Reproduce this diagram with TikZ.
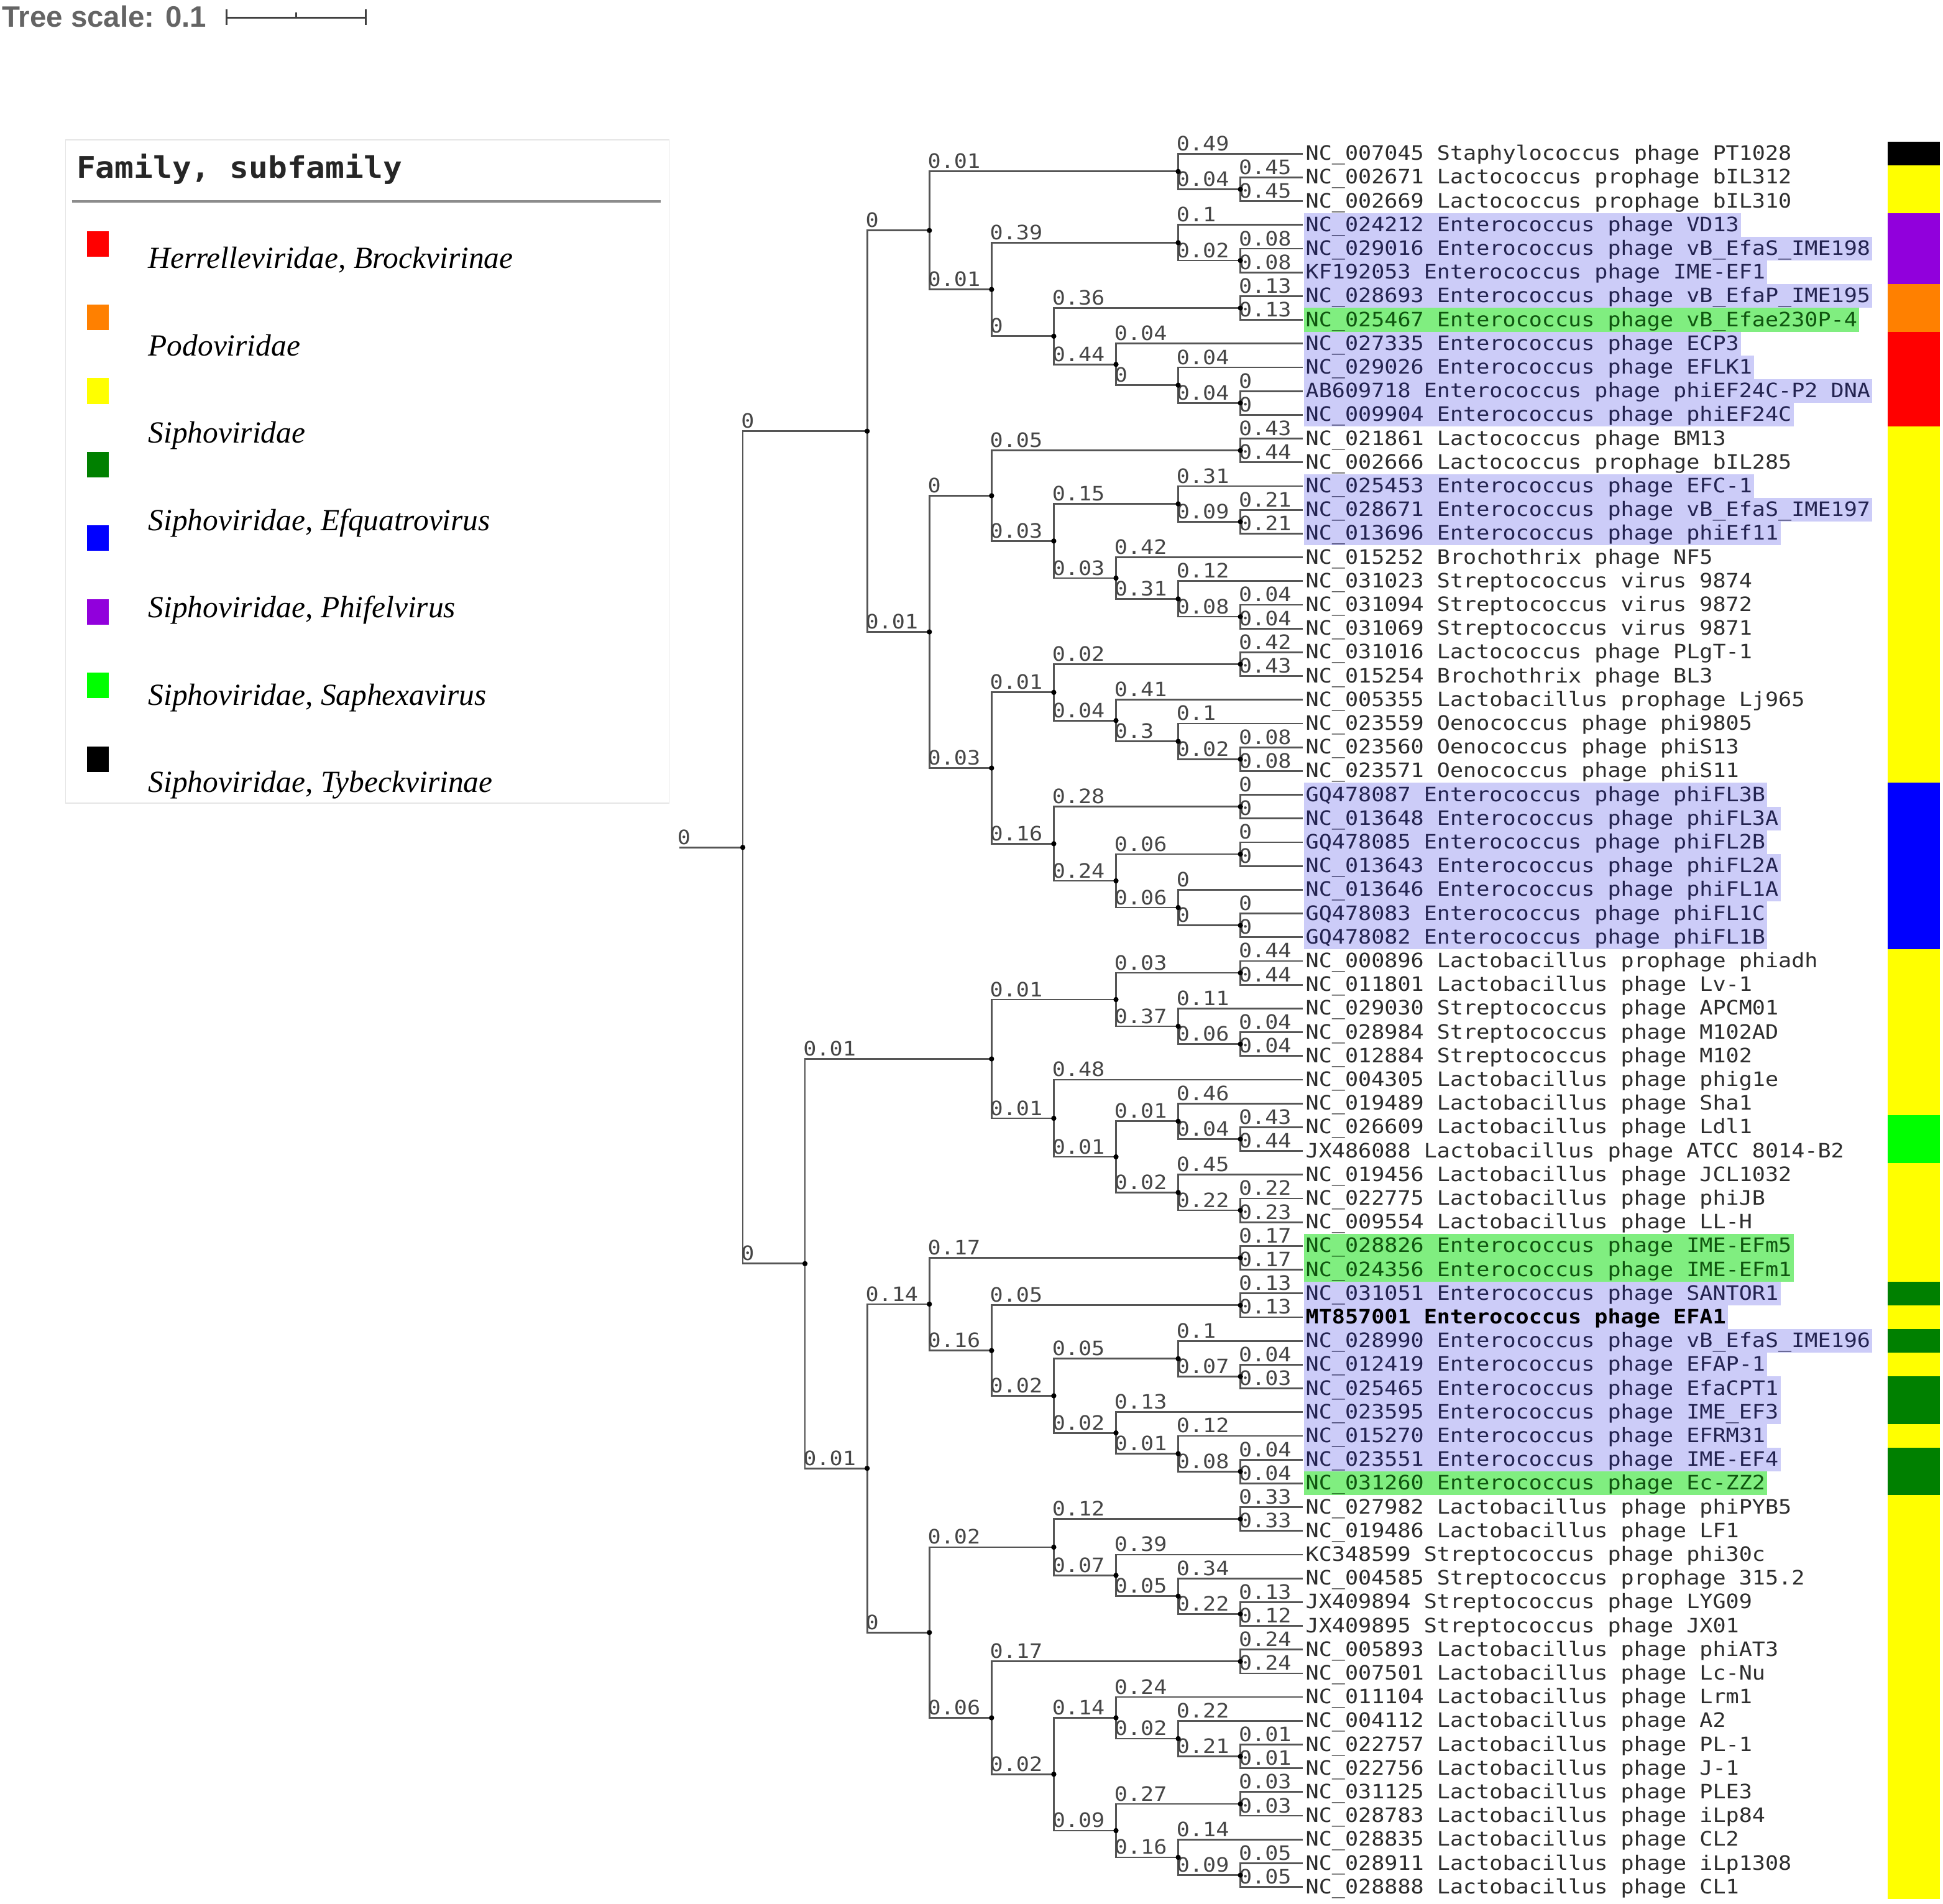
\documentclass[tikz,border=0pt]{standalone}
\usepackage{fontspec}
\usetikzlibrary{calc}
\newfontfamily\leaffont[FakeStretch=1.1]{DejaVu Sans Mono}
\newfontfamily\titlefont[FakeStretch=1.07]{DejaVu Sans Mono}
\newfontfamily\legserif{Liberation Serif}
\newfontfamily\tsfont{Liberation Sans}
\newcommand\lfs{\leaffont\fontsize{16}{16}\selectfont}
\pgfdeclarelayer{bg}\pgfdeclarelayer{fg}\pgfsetlayers{bg,main,fg}
\definecolor{hlp}{RGB}{204,204,248}
\definecolor{hlg}{RGB}{128,238,128}
\definecolor{brc}{RGB}{85,85,85}
\definecolor{lblc}{RGB}{70,70,70}
\definecolor{txn}{RGB}{45,45,45}
\definecolor{txp}{RGB}{35,35,80}
\definecolor{txg}{RGB}{15,85,15}
\definecolor{cpur}{RGB}{145,0,220}
\definecolor{corg}{RGB}{255,128,0}
\definecolor{cred}{RGB}{255,0,0}
\definecolor{cyel}{RGB}{255,255,0}
\definecolor{cblu}{RGB}{0,0,255}
\definecolor{cgrn}{RGB}{0,255,0}
\definecolor{cdgr}{RGB}{0,128,0}
\definecolor{tsc}{RGB}{100,100,100}
\tikzset{
 brl/.style={draw=brc, line width=1.4pt},
 bl/.style={anchor=base west, inner sep=0pt, xshift=-1.5pt, yshift=2.5pt, font=\lfs, text=lblc},
 lt/.style={anchor=base west, inner sep=0pt, yshift=-5.3pt, font=\lfs, text=txn},
 tp/.style={text=txp}, tg/.style={text=txg}, tb/.style={text=black, font=\lfs\bfseries},
 dotc/.style={fill=black},
 leg/.style={anchor=base west, inner sep=0pt, font=\legserif\itshape\fontsize{24.8}{24.8}\selectfont, text=black},
}
\newcommand\leaf[3]{%
  \coordinate (l#1) at (1051.2,{124+(#1-1)*19.16});
  \node[lt,#2] (t#1) at ([xshift=2.3pt]l#1) {#3};}
\newcommand\hl[2]{\begin{pgfonlayer}{bg}\fill[#2] ($(l#1)+(1.3,-9.58)$) rectangle ($(t#1.east |- l#1)+(1.5,9.58)$);\end{pgfonlayer}}
\newcommand\strip[3]{\fill[#3] (1523.5,{114.42+(#1-1)*19.16}) rectangle (1565.5,{114.42+#2*19.16});}
\newcommand\clade[6]{%
  \path let \p1=($(#3)!0.5!(#5)$) in (#2pt,\y1) coordinate (#1);
  \draw[brl] (#1) |- (#3);
  \draw[brl] (#1) |- (#5);
  \node[bl] (b#3) at (#1 |- #3) {#4};
  \node[bl] (b#5) at (#1 |- #5) {#6};
  \begin{pgfonlayer}{fg}\fill[dotc] (#1) circle[radius=2.1pt];\end{pgfonlayer}}
\begin{document}
\begin{tikzpicture}[x=1pt,y=-1pt]
\useasboundingbox (0,0) rectangle (1568,1536);
% tree scale
\node[anchor=base west, inner sep=0pt, font=\tsfont\bfseries\fontsize{23.8}{23.8}\selectfont, text=tsc] (ts) at (1.5,21.7) {Tree scale: 0.1};
\coordinate (sb1) at (183,14.2); \coordinate (sb2) at (295,14.2); \coordinate (sbm) at (239,14.2);
\draw[draw=black!75, line width=1.5pt] (sb1) -- (sb2);
\draw[draw=black!75, line width=1.5pt] ([yshift=6.7pt]sb1) -- ([yshift=-5.8pt]sb1);
\draw[draw=black!75, line width=1.5pt] ([yshift=6.7pt]sb2) -- ([yshift=-5.8pt]sb2);
\draw[draw=black!75, line width=1.5pt] ([yshift=4.2pt]sbm) -- (sbm);
% legend
\draw[draw=black!10, fill=white, line width=0.8pt] (53,113) rectangle (540,648);
\node[anchor=base west, inner sep=0pt, font=\titlefont\bfseries\fontsize{24}{24}\selectfont, text=black!85] (ttl) at (61.5,143.8) {Family, subfamily};
\draw[draw=black!45, line width=2pt] (58,162.6) -- (533,162.6);
\foreach \c [count=\k from 0] in {cred,corg,cyel,cdgr,cblu,cpur,cgrn,black}{
  \fill[\c] (70,{186.4+59.4*\k}) rectangle (87.6,{207+59.4*\k});}
\node[leg] (lg0) at (119.5,216.5) {Herrelleviridae, Brockvirinae};
\node[leg] (lg1) at (119.5,287) {Podoviridae};
\node[leg] (lg2) at (119.5,357.5) {Siphoviridae};
\node[leg] (lg3) at (119.5,428) {Siphoviridae, Efquatrovirus};
\node[leg] (lg4) at (119.5,498.5) {Siphoviridae, Phifelvirus};
\node[leg] (lg5) at (119.5,569) {Siphoviridae, Saphexavirus};
\node[leg] (lg6) at (119.5,639.5) {Siphoviridae, Tybeckvirinae};
% leaves
\leaf{1}{}{NC\_007045 Staphylococcus phage PT1028}
\leaf{2}{}{NC\_002671 Lactococcus prophage bIL312}
\leaf{3}{}{NC\_002669 Lactococcus prophage bIL310}
\leaf{4}{tp}{NC\_024212 Enterococcus phage VD13}
\leaf{5}{tp}{NC\_029016 Enterococcus phage vB\_EfaS\_IME198}
\leaf{6}{tp}{KF192053 Enterococcus phage IME-EF1}
\leaf{7}{tp}{NC\_028693 Enterococcus phage vB\_EfaP\_IME195}
\leaf{8}{tg}{NC\_025467 Enterococcus phage vB\_Efae230P-4}
\leaf{9}{tp}{NC\_027335 Enterococcus phage ECP3}
\leaf{10}{tp}{NC\_029026 Enterococcus phage EFLK1}
\leaf{11}{tp}{AB609718 Enterococcus phage phiEF24C-P2 DNA}
\leaf{12}{tp}{NC\_009904 Enterococcus phage phiEF24C}
\leaf{13}{}{NC\_021861 Lactococcus phage BM13}
\leaf{14}{}{NC\_002666 Lactococcus prophage bIL285}
\leaf{15}{tp}{NC\_025453 Enterococcus phage EFC-1}
\leaf{16}{tp}{NC\_028671 Enterococcus phage vB\_EfaS\_IME197}
\leaf{17}{tp}{NC\_013696 Enterococcus phage phiEf11}
\leaf{18}{}{NC\_015252 Brochothrix phage NF5}
\leaf{19}{}{NC\_031023 Streptococcus virus 9874}
\leaf{20}{}{NC\_031094 Streptococcus virus 9872}
\leaf{21}{}{NC\_031069 Streptococcus virus 9871}
\leaf{22}{}{NC\_031016 Lactococcus phage PLgT-1}
\leaf{23}{}{NC\_015254 Brochothrix phage BL3}
\leaf{24}{}{NC\_005355 Lactobacillus prophage Lj965}
\leaf{25}{}{NC\_023559 Oenococcus phage phi9805}
\leaf{26}{}{NC\_023560 Oenococcus phage phiS13}
\leaf{27}{}{NC\_023571 Oenococcus phage phiS11}
\leaf{28}{tp}{GQ478087 Enterococcus phage phiFL3B}
\leaf{29}{tp}{NC\_013648 Enterococcus phage phiFL3A}
\leaf{30}{tp}{GQ478085 Enterococcus phage phiFL2B}
\leaf{31}{tp}{NC\_013643 Enterococcus phage phiFL2A}
\leaf{32}{tp}{NC\_013646 Enterococcus phage phiFL1A}
\leaf{33}{tp}{GQ478083 Enterococcus phage phiFL1C}
\leaf{34}{tp}{GQ478082 Enterococcus phage phiFL1B}
\leaf{35}{}{NC\_000896 Lactobacillus prophage phiadh}
\leaf{36}{}{NC\_011801 Lactobacillus phage Lv-1}
\leaf{37}{}{NC\_029030 Streptococcus phage APCM01}
\leaf{38}{}{NC\_028984 Streptococcus phage M102AD}
\leaf{39}{}{NC\_012884 Streptococcus phage M102}
\leaf{40}{}{NC\_004305 Lactobacillus phage phig1e}
\leaf{41}{}{NC\_019489 Lactobacillus phage Sha1}
\leaf{42}{}{NC\_026609 Lactobacillus phage Ldl1}
\leaf{43}{}{JX486088 Lactobacillus phage ATCC 8014-B2}
\leaf{44}{}{NC\_019456 Lactobacillus phage JCL1032}
\leaf{45}{}{NC\_022775 Lactobacillus phage phiJB}
\leaf{46}{}{NC\_009554 Lactobacillus phage LL-H}
\leaf{47}{tg}{NC\_028826 Enterococcus phage IME-EFm5}
\leaf{48}{tg}{NC\_024356 Enterococcus phage IME-EFm1}
\leaf{49}{tp}{NC\_031051 Enterococcus phage SANTOR1}
\leaf{50}{tb}{MT857001 Enterococcus phage EFA1}
\leaf{51}{tp}{NC\_028990 Enterococcus phage vB\_EfaS\_IME196}
\leaf{52}{tp}{NC\_012419 Enterococcus phage EFAP-1}
\leaf{53}{tp}{NC\_025465 Enterococcus phage EfaCPT1}
\leaf{54}{tp}{NC\_023595 Enterococcus phage IME\_EF3}
\leaf{55}{tp}{NC\_015270 Enterococcus phage EFRM31}
\leaf{56}{tp}{NC\_023551 Enterococcus phage IME-EF4}
\leaf{57}{tg}{NC\_031260 Enterococcus phage Ec-ZZ2}
\leaf{58}{}{NC\_027982 Lactobacillus phage phiPYB5}
\leaf{59}{}{NC\_019486 Lactobacillus phage LF1}
\leaf{60}{}{KC348599 Streptococcus phage phi30c}
\leaf{61}{}{NC\_004585 Streptococcus prophage 315.2}
\leaf{62}{}{JX409894 Streptococcus phage LYG09}
\leaf{63}{}{JX409895 Streptococcus phage JX01}
\leaf{64}{}{NC\_005893 Lactobacillus phage phiAT3}
\leaf{65}{}{NC\_007501 Lactobacillus phage Lc-Nu}
\leaf{66}{}{NC\_011104 Lactobacillus phage Lrm1}
\leaf{67}{}{NC\_004112 Lactobacillus phage A2}
\leaf{68}{}{NC\_022757 Lactobacillus phage PL-1}
\leaf{69}{}{NC\_022756 Lactobacillus phage J-1}
\leaf{70}{}{NC\_031125 Lactobacillus phage PLE3}
\leaf{71}{}{NC\_028783 Lactobacillus phage iLp84}
\leaf{72}{}{NC\_028835 Lactobacillus phage CL2}
\leaf{73}{}{NC\_028911 Lactobacillus phage iLp1308}
\leaf{74}{}{NC\_028888 Lactobacillus phage CL1}
% highlights
\foreach \r in {4,5,6,7,9,10,11,12,15,16,17,28,29,30,31,32,33,34,49,50,51,52,53,54,55,56}{\hl{\r}{hlp}}
\foreach \r in {8,47,48,57}{\hl{\r}{hlg}}
% colour strip
\strip{1}{1}{black}
\strip{2}{3}{cyel}
\strip{4}{6}{cpur}
\strip{7}{8}{corg}
\strip{9}{12}{cred}
\strip{13}{27}{cyel}
\strip{28}{34}{cblu}
\strip{35}{41}{cyel}
\strip{42}{43}{cgrn}
\strip{44}{48}{cyel}
\strip{49}{49}{cdgr}
\strip{50}{50}{cyel}
\strip{51}{51}{cdgr}
\strip{52}{52}{cyel}
\strip{53}{54}{cdgr}
\strip{55}{55}{cyel}
\strip{56}{57}{cdgr}
\strip{58}{74}{cyel}
% tree
\clade{a1}{1001}{l2}{0.45}{l3}{0.45}
\clade{a2}{950.8}{l1}{0.49}{a1}{0.04}
\clade{b1}{1001}{l5}{0.08}{l6}{0.08}
\clade{b2}{950.8}{l4}{0.1}{b1}{0.02}
\clade{c1}{1001}{l7}{0.13}{l8}{0.13}
\clade{c2}{1001}{l11}{0}{l12}{0}
\clade{c3}{950.8}{l10}{0.04}{c2}{0.04}
\clade{c4}{900.6}{l9}{0.04}{c3}{0}
\clade{c5}{850.4}{c1}{0.36}{c4}{0.44}
\clade{c6}{800.2}{b2}{0.39}{c5}{0}
\clade{A1}{750}{a2}{0.01}{c6}{0.01}
\clade{d1}{1001}{l13}{0.43}{l14}{0.44}
\clade{d2}{1001}{l16}{0.21}{l17}{0.21}
\clade{d3}{950.8}{l15}{0.31}{d2}{0.09}
\clade{d4}{1001}{l20}{0.04}{l21}{0.04}
\clade{d5}{950.8}{l19}{0.12}{d4}{0.08}
\clade{d6}{900.6}{l18}{0.42}{d5}{0.31}
\clade{d7}{850.4}{d3}{0.15}{d6}{0.03}
\clade{d8}{800.2}{d1}{0.05}{d7}{0.03}
\clade{e1}{1001}{l22}{0.42}{l23}{0.43}
\clade{e2}{1001}{l26}{0.08}{l27}{0.08}
\clade{e3}{950.8}{l25}{0.1}{e2}{0.02}
\clade{e4}{900.6}{l24}{0.41}{e3}{0.3}
\clade{e5}{850.4}{e1}{0.02}{e4}{0.04}
\clade{f1}{1001}{l28}{0}{l29}{0}
\clade{f2}{1001}{l30}{0}{l31}{0}
\clade{f3}{1001}{l33}{0}{l34}{0}
\clade{f4}{950.8}{l32}{0}{f3}{0}
\clade{f5}{900.6}{f2}{0.06}{f4}{0.06}
\clade{f6}{850.4}{f1}{0.28}{f5}{0.24}
\clade{f7}{800.2}{e5}{0.01}{f6}{0.16}
\clade{A2}{750}{d8}{0}{f7}{0.03}
\clade{A}{699.8}{A1}{0}{A2}{0.01}
\clade{g1}{1001}{l35}{0.44}{l36}{0.44}
\clade{g2}{1001}{l38}{0.04}{l39}{0.04}
\clade{g3}{950.8}{l37}{0.11}{g2}{0.06}
\clade{g4}{900.6}{g1}{0.03}{g3}{0.37}
\clade{h1}{1001}{l42}{0.43}{l43}{0.44}
\clade{h2}{950.8}{l41}{0.46}{h1}{0.04}
\clade{h3}{1001}{l45}{0.22}{l46}{0.23}
\clade{h4}{950.8}{l44}{0.45}{h3}{0.22}
\clade{h5}{900.6}{h2}{0.01}{h4}{0.02}
\clade{h6}{850.4}{l40}{0.48}{h5}{0.01}
\clade{g5}{800.2}{g4}{0.01}{h6}{0.01}
\clade{i1}{1001}{l47}{0.17}{l48}{0.17}
\clade{i2}{1001}{l49}{0.13}{l50}{0.13}
\clade{i3}{1001}{l52}{0.04}{l53}{0.03}
\clade{i4}{950.8}{l51}{0.1}{i3}{0.07}
\clade{i5}{1001}{l56}{0.04}{l57}{0.04}
\clade{i6}{950.8}{l55}{0.12}{i5}{0.08}
\clade{i7}{900.6}{l54}{0.13}{i6}{0.01}
\clade{i8}{850.4}{i4}{0.05}{i7}{0.02}
\clade{i9}{800.2}{i2}{0.05}{i8}{0.02}
\clade{i10}{750}{i1}{0.17}{i9}{0.16}
\clade{j1}{1001}{l58}{0.33}{l59}{0.33}
\clade{j2}{1001}{l62}{0.13}{l63}{0.12}
\clade{j3}{950.8}{l61}{0.34}{j2}{0.22}
\clade{j4}{900.6}{l60}{0.39}{j3}{0.05}
\clade{j5}{850.4}{j1}{0.12}{j4}{0.07}
\clade{k1}{1001}{l64}{0.24}{l65}{0.24}
\clade{k2}{1001}{l68}{0.01}{l69}{0.01}
\clade{k3}{950.8}{l67}{0.22}{k2}{0.21}
\clade{k4}{900.6}{l66}{0.24}{k3}{0.02}
\clade{k5}{1001}{l70}{0.03}{l71}{0.03}
\clade{k6}{1001}{l73}{0.05}{l74}{0.05}
\clade{k7}{950.8}{l72}{0.14}{k6}{0.09}
\clade{k8}{900.6}{k5}{0.27}{k7}{0.16}
\clade{k9}{850.4}{k4}{0.14}{k8}{0.09}
\clade{k10}{800.2}{k1}{0.17}{k9}{0.02}
\clade{j6}{750}{j5}{0.02}{k10}{0.06}
\clade{n}{699.8}{i10}{0.14}{j6}{0}
\clade{B}{649.6}{g5}{0.01}{n}{0.01}
\clade{R}{599.4}{A}{0}{B}{0}
\path let \p1=(R) in (548pt,\y1) coordinate (rs);
\draw[brl] (rs) -- (R);
\node[bl] (brs) at (rs) {0};
\end{tikzpicture}
\end{document}
